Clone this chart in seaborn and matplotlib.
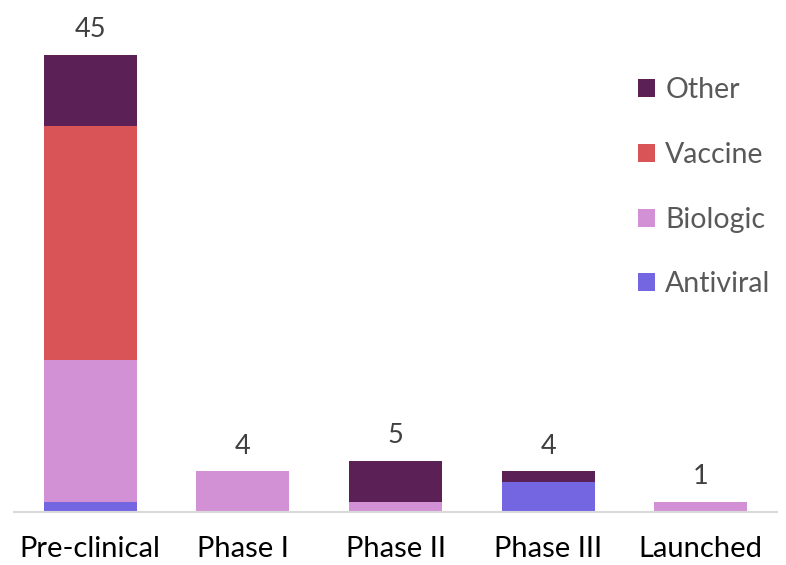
import numpy as np
import pandas as pd
import seaborn as sns
import matplotlib
matplotlib.use("Agg")
import matplotlib.pyplot as plt
from matplotlib.patches import Patch

categories = ["Pre-clinical", "Phase I", "Phase II", "Phase III", "Launched"]
antiviral = [1, 0, 0, 3, 0]
biologic = [14, 4, 1, 0, 1]
vaccine = [23, 0, 0, 0, 0]
other = [7, 0, 4, 1, 0]

series_names = ["Other", "Vaccine", "Biologic", "Antiviral"]
colors = {"Other": "#5B2157", "Vaccine": "#D85456", "Biologic": "#D291D5", "Antiviral": "#7466E1"}

sns.set_theme(style="white")
plt.rcParams["font.family"] = ["Lato", "DejaVu Sans"]

df = pd.DataFrame({"category": categories, "Antiviral": antiviral, "Biologic": biologic,
                   "Vaccine": vaccine, "Other": other})
stack_order = ["Antiviral", "Biologic", "Vaccine", "Other"]
cum = df[stack_order].cumsum(axis=1)

fig = plt.figure(figsize=(7.86, 5.65), dpi=100)
ax = fig.add_axes([14 / 786, 53 / 565, (777 - 14) / 786, (512 - 4) / 565])

for name in reversed(stack_order):
    sns.barplot(x=df["category"], y=cum[name], color=colors[name], width=0.61,
                saturation=1, ax=ax, linewidth=0, order=categories)

totals = cum["Other"].values
for i, t in enumerate(totals):
    ax.text(i, t + 1.75, f"{int(t)}", ha="center", va="baseline", fontsize=19.5, color="#404040")

ax.set_ylim(0, 50)
ax.set_xlim(-0.5, 4.5)
ax.set_xlabel("")
ax.set_ylabel("")
ax.set_yticks([])
for s in ["top", "right", "left"]:
    ax.spines[s].set_visible(False)
ax.spines["bottom"].set_color("#D9D9D9")
ax.spines["bottom"].set_linewidth(1.5)
ax.tick_params(axis="x", length=0, labelsize=21, labelcolor="#000000", pad=17)

handles = [Patch(facecolor=colors[n], edgecolor="none") for n in series_names]
ax.legend(handles, series_names, loc="upper left", bbox_to_anchor=(624 / 786, 1 - 63 / 565),
          bbox_transform=fig.transFigure, frameon=False, fontsize=20.5, labelcolor="#595959",
          handlelength=0.6, handleheight=0.6, handletextpad=0.35, labelspacing=1.36, borderpad=0)

fig.savefig("out.png", dpi=100)
